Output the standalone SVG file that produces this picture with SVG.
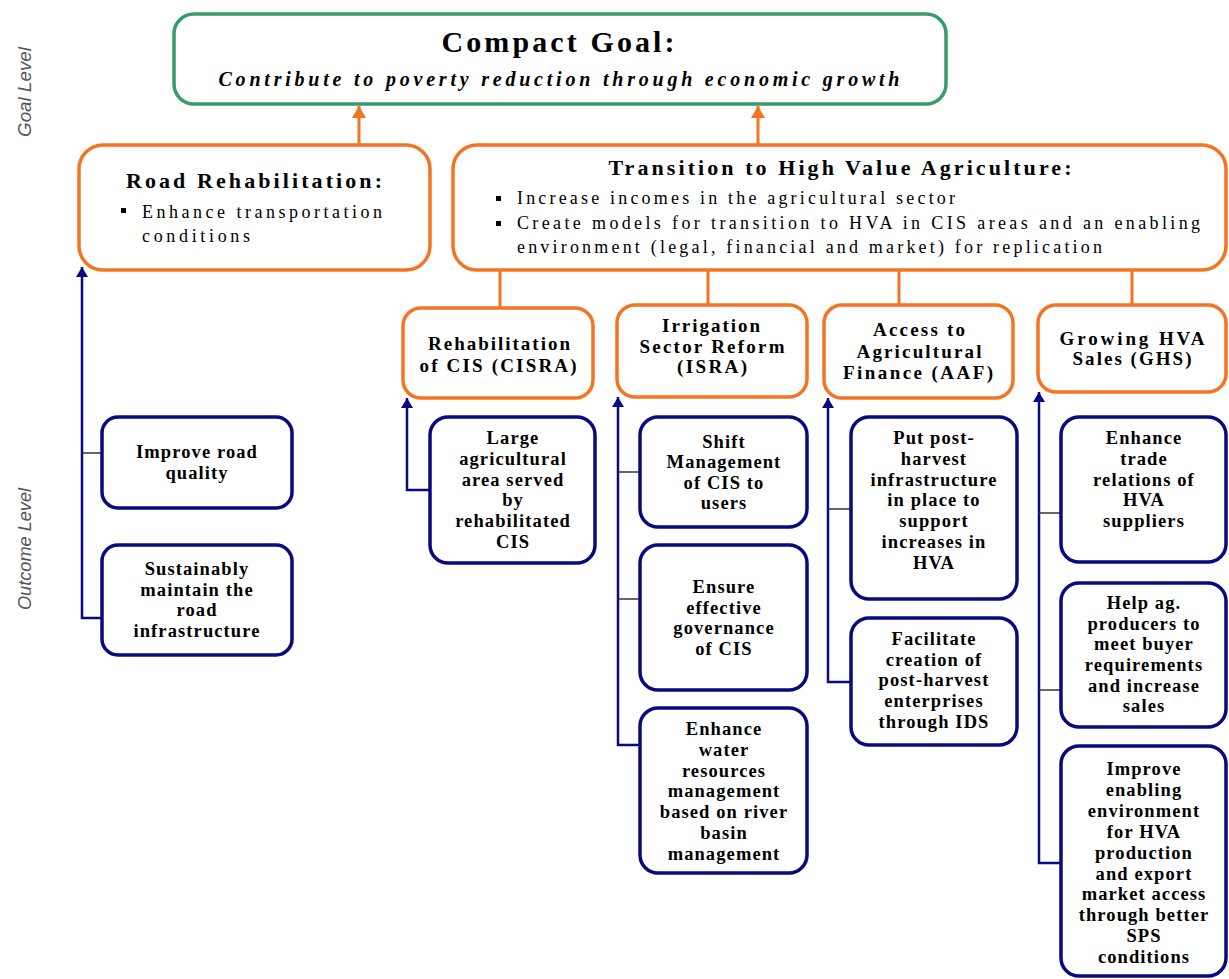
<svg xmlns="http://www.w3.org/2000/svg" width="1229" height="979" viewBox="0 0 1229 979">
<defs>
<style>
.serif{font-family:'Liberation Serif','Times New Roman',Tinos,'DejaVu Serif',serif;fill:#000}
.gtitle{font-size:30px;font-weight:bold;text-anchor:middle}
.gsub{font-size:20px;font-weight:bold;font-style:italic;text-anchor:middle}
.ltitle{font-size:22px;font-weight:bold;text-anchor:middle}
.bul{font-size:18px}
.sub{font-size:19px;font-weight:bold;text-anchor:middle}
.out{font-size:18.5px;font-weight:bold;text-anchor:middle;letter-spacing:1.1px}
.lvl{font-family:'Liberation Sans Narrow','Liberation Sans',Arial,sans-serif;font-style:italic;font-size:18px;fill:#555;text-anchor:middle}
.goalbox{fill:#fff;stroke:#3a9a6b;stroke-width:3.5}
.obox{fill:#fff;stroke:#f47421;stroke-width:3.5}
.bbox{fill:#fff;stroke:#0a0a80;stroke-width:3.5}
.oline{fill:none;stroke:#f47421;stroke-width:3}
.bline{fill:none;stroke:#0a0a80;stroke-width:2.5}
.tick{fill:none;stroke:#333;stroke-width:1.5}
</style>
<marker id="ba" markerUnits="userSpaceOnUse" markerWidth="10" markerHeight="12" refX="10" refY="6" orient="auto"><path d="M0,0 L10,6 L0,12 z" fill="#0a0a80"/></marker>
<marker id="oa" markerUnits="userSpaceOnUse" markerWidth="12" markerHeight="14" refX="12" refY="7" orient="auto"><path d="M0,0 L12,7 L0,14 z" fill="#f47421"/></marker>
</defs>
<rect width="1229" height="979" fill="#fff"/>

<g id="level-labels">
<text class="lvl" transform="translate(31,92) rotate(-90)" textLength="90" lengthAdjust="spacingAndGlyphs">Goal Level</text>
<text class="lvl" transform="translate(31,549) rotate(-90)" textLength="122" lengthAdjust="spacingAndGlyphs">Outcome Level</text>
</g>

<g id="connectors">
<path class="oline" d="M359,145 V106" marker-end="url(#oa)"/>
<path class="oline" d="M758,145 V106" marker-end="url(#oa)"/>
<path class="oline" d="M500,270 V308"/>
<path class="oline" d="M708,270 V305"/>
<path class="oline" d="M899,270 V305"/>
<path class="oline" d="M1132,270 V305"/>
<path class="bline" d="M102,618 H82 V267" marker-end="url(#ba)"/>
<path class="tick" d="M82,453 H102"/>
<path class="bline" d="M430,490 H407 V398" marker-end="url(#ba)"/>
<path class="bline" d="M640,745 H618 V397" marker-end="url(#ba)"/>
<path class="tick" d="M618,472 H640"/>
<path class="tick" d="M618,599 H640"/>
<path class="bline" d="M851,682 H828 V398" marker-end="url(#ba)"/>
<path class="tick" d="M828,509 H851"/>
<path class="bline" d="M1061,863 H1039 V392" marker-end="url(#ba)"/>
<path class="tick" d="M1039,513 H1061"/>
<path class="tick" d="M1039,690 H1061"/>
</g>

<g id="goal">
<rect class="goalbox" x="174" y="14" width="772" height="90" rx="20"/>
<text class="serif gtitle" x="558" y="52" textLength="233" lengthAdjust="spacing">Compact Goal:</text>
<text class="serif gsub" x="559" y="86" textLength="681" lengthAdjust="spacing">Contribute to poverty reduction through economic growth</text>
</g>

<g id="road-rehab">
<rect class="obox" x="79" y="145" width="351" height="125" rx="24"/>
<text class="serif ltitle" x="254" y="188" textLength="256" lengthAdjust="spacing">Road Rehabilitation:</text>
<rect x="121" y="208" width="5" height="5" fill="#000"/>
<text class="serif bul" x="142" y="218" textLength="240" lengthAdjust="spacing">Enhance transportation</text>
<text class="serif bul" x="142" y="242" textLength="108" lengthAdjust="spacing">conditions</text>
</g>

<g id="hva">
<rect class="obox" x="453" y="145" width="773" height="125" rx="24"/>
<text class="serif ltitle" x="840" y="175" textLength="463" lengthAdjust="spacing">Transition to High Value Agriculture:</text>
<rect x="496" y="196" width="5" height="5" fill="#000"/>
<text class="serif bul" x="517" y="204" textLength="438" lengthAdjust="spacing">Increase incomes in the agricultural sector</text>
<rect x="496" y="221" width="5" height="5" fill="#000"/>
<text class="serif bul" x="517" y="229" textLength="683" lengthAdjust="spacing">Create models for transition to HVA in CIS areas and an enabling</text>
<text class="serif bul" x="517" y="253" textLength="585" lengthAdjust="spacing">environment (legal, financial and market) for replication</text>
</g>

<g id="cisra">
<rect class="obox" x="403" y="308" width="190" height="90" rx="18"/>
<text class="serif sub" x="499" y="350" textLength="142" lengthAdjust="spacing">Rehabilitation</text>
<text class="serif sub" x="498" y="372" textLength="157" lengthAdjust="spacing">of CIS (CISRA)</text>
</g>

<g id="isra">
<rect class="obox" x="617" y="305" width="190" height="92" rx="18"/>
<text class="serif sub" x="711" y="332" textLength="98" lengthAdjust="spacing">Irrigation</text>
<text class="serif sub" x="712" y="353" textLength="145" lengthAdjust="spacing">Sector Reform</text>
<text class="serif sub" x="712" y="373" textLength="70" lengthAdjust="spacing">(ISRA)</text>
</g>

<g id="aaf">
<rect class="obox" x="824" y="305" width="189" height="93" rx="18"/>
<text class="serif sub" x="919" y="336" textLength="92" lengthAdjust="spacing">Access to</text>
<text class="serif sub" x="919" y="358" textLength="125" lengthAdjust="spacing">Agricultural</text>
<text class="serif sub" x="918" y="379" textLength="150" lengthAdjust="spacing">Finance (AAF)</text>
</g>

<g id="ghs">
<rect class="obox" x="1038" y="305" width="188" height="87" rx="18"/>
<text class="serif sub" x="1132" y="345" textLength="145" lengthAdjust="spacing">Growing HVA</text>
<text class="serif sub" x="1132" y="365" textLength="119" lengthAdjust="spacing">Sales (GHS)</text>
</g>

<g id="road-quality">
<rect class="bbox" x="102" y="417" width="190" height="91" rx="16"/>
<text class="serif out" x="197" y="458">Improve road</text>
<text class="serif out" x="197" y="479">quality</text>
</g>

<g id="road-maintain">
<rect class="bbox" x="102" y="545" width="190" height="110" rx="16"/>
<text class="serif out" x="197" y="575">Sustainably</text>
<text class="serif out" x="197" y="596">maintain the</text>
<text class="serif out" x="197" y="616">road</text>
<text class="serif out" x="197" y="637">infrastructure</text>
</g>

<g id="cis-area">
<rect class="bbox" x="430" y="417" width="165" height="146" rx="18"/>
<text class="serif out" x="513" y="444">Large</text>
<text class="serif out" x="513" y="465">agricultural</text>
<text class="serif out" x="513" y="486">area served</text>
<text class="serif out" x="513" y="506">by</text>
<text class="serif out" x="513" y="527">rehabilitated</text>
<text class="serif out" x="513" y="548">CIS</text>
</g>

<g id="shift-mgmt">
<rect class="bbox" x="640" y="417" width="167" height="110" rx="18"/>
<text class="serif out" x="724" y="448">Shift</text>
<text class="serif out" x="724" y="468">Management</text>
<text class="serif out" x="724" y="489">of CIS to</text>
<text class="serif out" x="724" y="509">users</text>
</g>

<g id="governance">
<rect class="bbox" x="640" y="545" width="167" height="145" rx="18"/>
<text class="serif out" x="724" y="593">Ensure</text>
<text class="serif out" x="724" y="614">effective</text>
<text class="serif out" x="724" y="634">governance</text>
<text class="serif out" x="724" y="655">of CIS</text>
</g>

<g id="water-resources">
<rect class="bbox" x="640" y="708" width="167" height="165" rx="18"/>
<text class="serif out" x="724" y="735">Enhance</text>
<text class="serif out" x="724" y="756">water</text>
<text class="serif out" x="724" y="777">resources</text>
<text class="serif out" x="724" y="797">management</text>
<text class="serif out" x="724" y="818">based on river</text>
<text class="serif out" x="724" y="839">basin</text>
<text class="serif out" x="724" y="860">management</text>
</g>

<g id="post-harvest-infra">
<rect class="bbox" x="851" y="417" width="166" height="182" rx="18"/>
<text class="serif out" x="934" y="444">Put post-</text>
<text class="serif out" x="934" y="465">harvest</text>
<text class="serif out" x="934" y="486">infrastructure</text>
<text class="serif out" x="934" y="506">in place to</text>
<text class="serif out" x="934" y="527">support</text>
<text class="serif out" x="934" y="548">increases in</text>
<text class="serif out" x="934" y="569">HVA</text>
</g>

<g id="post-harvest-ent">
<rect class="bbox" x="851" y="618" width="166" height="127" rx="18"/>
<text class="serif out" x="934" y="645">Facilitate</text>
<text class="serif out" x="934" y="666">creation of</text>
<text class="serif out" x="934" y="686">post-harvest</text>
<text class="serif out" x="934" y="707">enterprises</text>
<text class="serif out" x="934" y="728">through IDS</text>
</g>

<g id="trade-relations">
<rect class="bbox" x="1061" y="417" width="165" height="145" rx="18"/>
<text class="serif out" x="1144" y="444">Enhance</text>
<text class="serif out" x="1144" y="465">trade</text>
<text class="serif out" x="1144" y="486">relations of</text>
<text class="serif out" x="1144" y="506">HVA</text>
<text class="serif out" x="1144" y="527">suppliers</text>
</g>

<g id="buyer-req">
<rect class="bbox" x="1061" y="583" width="165" height="144" rx="18"/>
<text class="serif out" x="1144" y="609">Help ag.</text>
<text class="serif out" x="1144" y="630">producers to</text>
<text class="serif out" x="1144" y="650">meet buyer</text>
<text class="serif out" x="1144" y="671">requirements</text>
<text class="serif out" x="1144" y="692">and increase</text>
<text class="serif out" x="1144" y="712">sales</text>
</g>

<g id="enabling-env">
<rect class="bbox" x="1061" y="746" width="165" height="230" rx="18"/>
<text class="serif out" x="1144" y="775">Improve</text>
<text class="serif out" x="1144" y="796">enabling</text>
<text class="serif out" x="1144" y="817">environment</text>
<text class="serif out" x="1144" y="838">for HVA</text>
<text class="serif out" x="1144" y="859">production</text>
<text class="serif out" x="1144" y="880">and export</text>
<text class="serif out" x="1144" y="900">market access</text>
<text class="serif out" x="1144" y="921">through better</text>
<text class="serif out" x="1144" y="942">SPS</text>
<text class="serif out" x="1144" y="963">conditions</text>
</g>
</svg>
